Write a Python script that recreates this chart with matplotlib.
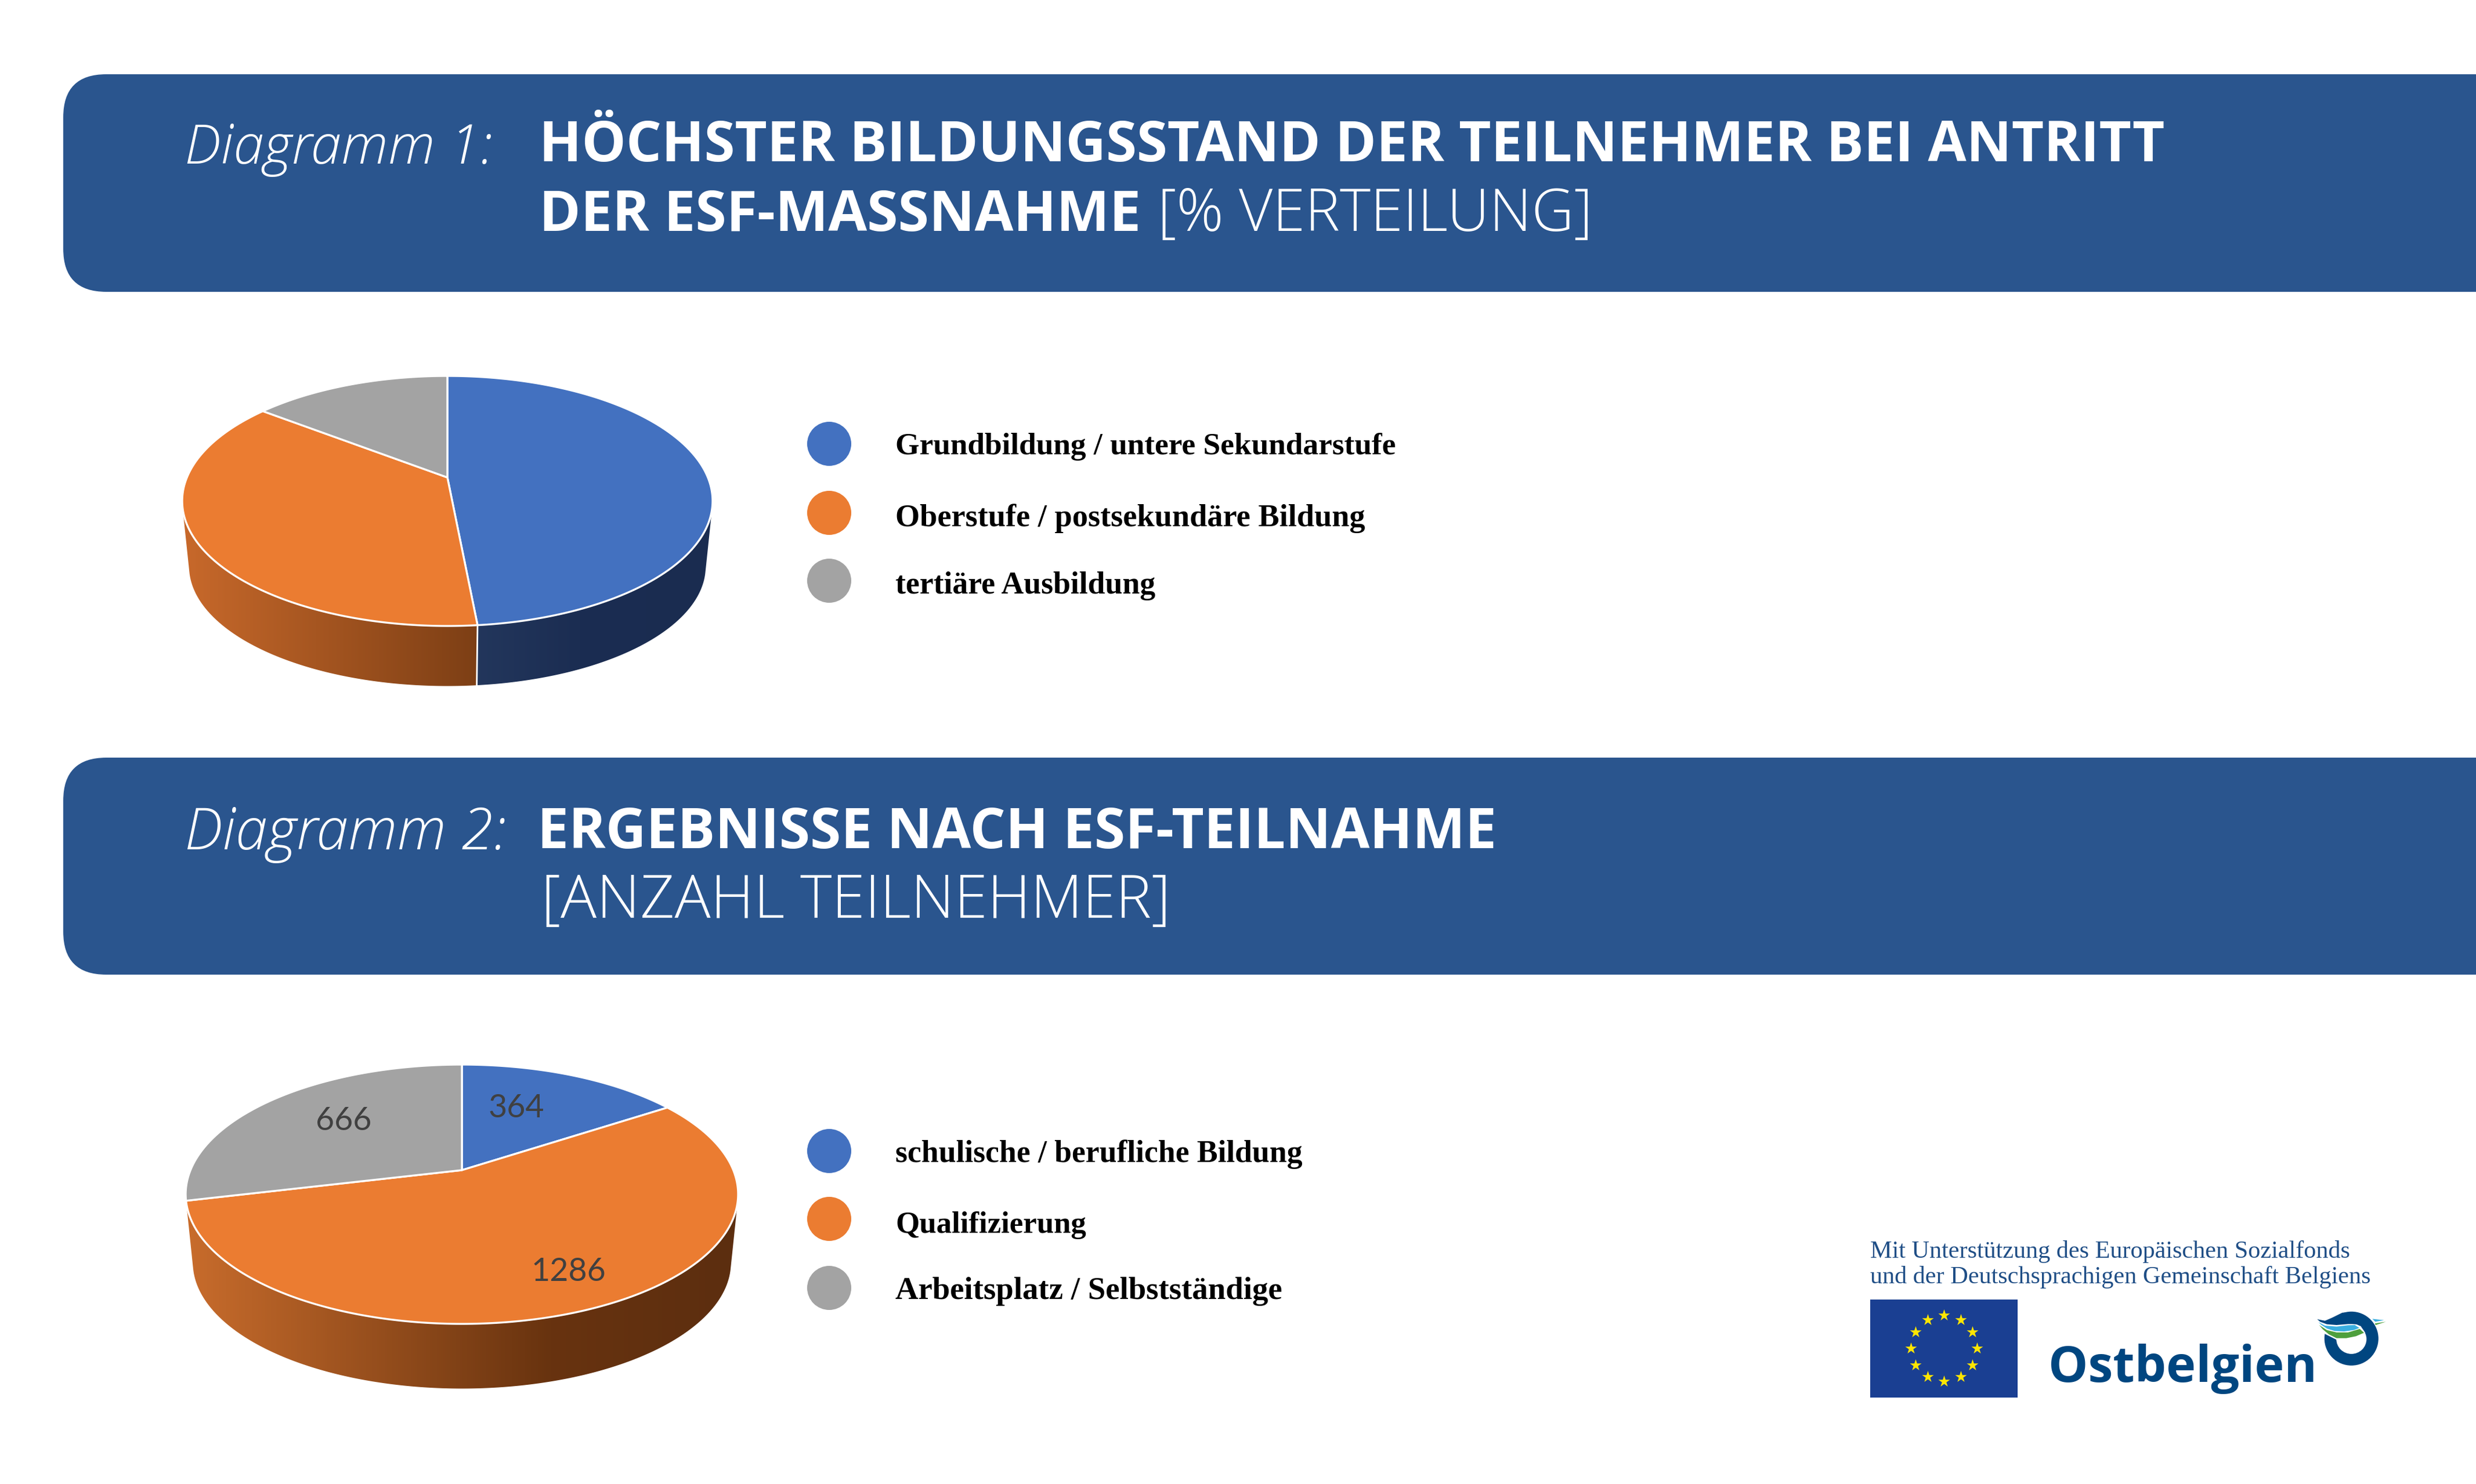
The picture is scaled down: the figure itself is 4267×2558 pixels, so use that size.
import numpy as np
import matplotlib
matplotlib.use("Agg")
import matplotlib.pyplot as plt
from matplotlib.patches import FancyBboxPatch, Circle, Ellipse, Polygon
from matplotlib.colors import LinearSegmentedColormap

# Daten
labels_1 = ["Grundbildung / untere Sekundarstufe", "Oberstufe / postsekundäre Bildung", "tertiäre Ausbildung"]
values_1 = [48.5, 37.0, 14.5]
labels_2 = ["schulische / berufliche Bildung", "Qualifizierung", "Arbeitsplatz / Selbstständige"]
values_2 = [364, 1286, 666]
colors = ["#4371C0", "#EB7C31", "#A3A3A3"]

title_1a = "HÖCHSTER BILDUNGSSTAND DER TEILNEHMER BEI ANTRITT"
title_1b = "DER ESF-MASSNAHME"
title_1c = "[% VERTEILUNG]"
title_2a = "ERGEBNISSE NACH ESF-TEILNAHME"
title_2b = "[ANZAHL TEILNEHMER]"
support = ["Mit Unterstützung des Europäischen Sozialfonds", "und der Deutschsprachigen Gemeinschaft Belgiens"]

BLUE = "#2A558E"
LOGO = "#004680"

W, H = 4267, 2558
fig = plt.figure(figsize=(W / 100, H / 100), dpi=100)
ax = fig.add_axes([0, 0, 1, 1])
ax.set_xlim(0, W)
ax.set_ylim(H, 0)
ax.axis("off")


def font_size(text, width, **font):
    # Schriftgroesse, bei der der Text die gewuenschte Breite in Pixeln hat
    t = ax.text(0, 0, text, fontsize=100, **font)
    w = t.get_window_extent(fig.canvas.get_renderer()).width
    t.remove()
    return 100 * width / w


def hull(pts):
    # konvexe Huelle, damit die Seitenwand tangential an die Deckflaeche anschliesst
    pts = sorted(map(tuple, pts))
    def half(seq):
        out = []
        for p in seq:
            while len(out) > 1 and (out[-1][0] - out[-2][0]) * (p[1] - out[-2][1]) - (out[-1][1] - out[-2][1]) * (p[0] - out[-2][0]) <= 0:
                out.pop()
            out.append(p)
        return out[:-1]
    return np.array(half(pts) + half(pts[::-1]))


def rim(theta, cx, cy, sx, sy, a):
    # Kreis in Perspektive: oben kleiner, unten groesser
    u, v = np.sin(theta), -np.cos(theta)
    d = 1 - a * v
    return cx + sx * u / d, cy + sy * v / d


def pie_3d(values, cx, cy, rx, top, bottom, shrink, drop, side_stops):
    a = (bottom - top) / (bottom + top)
    sy = bottom * (1 - a)
    sx = rx * np.sqrt(1 - a ** 2)
    ends = np.cumsum(values) / np.sum(values) * 2 * np.pi
    starts = np.r_[0, ends[:-1]]
    mid_y = cy + (bottom - top) / 2
    for t0, t1, stops in zip(starts, ends, side_stops):
        if stops is None:
            continue
        th = np.linspace(t0, t1, 300)
        x1, y1 = rim(th, cx, cy, sx, sy, a)
        x2 = cx + (x1 - cx) * shrink[0]
        y2 = mid_y + (y1 - mid_y) * shrink[1] + drop
        outline = hull(np.c_[np.r_[x1, x2], np.r_[y1, y2]])
        poly = Polygon(outline, closed=True, fc="none", ec="none")
        ax.add_patch(poly)
        cmap = LinearSegmentedColormap.from_list("side", stops)
        im = ax.imshow(np.linspace(0, 1, 256)[None, :], cmap=cmap, aspect="auto", interpolation="bilinear",
                       extent=[outline[:, 0].min(), outline[:, 0].max(), outline[:, 1].max(), outline[:, 1].min()],
                       zorder=2)
        im.set_clip_path(poly)
        # weisse Trennlinie zwischen den Seitenflaechen
        if t1 < np.pi:
            ax.plot([x1[-1], x2[-1]], [y1[-1], y2[-1]], color="white", lw=2, zorder=3)
    for t0, t1, c in zip(starts, ends, colors):
        th = np.linspace(t0, t1, 300)
        x, y = rim(th, cx, cy, sx, sy, a)
        ax.fill(np.r_[cx, x], np.r_[cy, y], fc=c, ec="white", lw=2.4, joinstyle="round", zorder=4)
    ax.set_xlim(0, W)
    ax.set_ylim(H, 0)


# Banner
for y0, y1 in [(128, 503), (1306, 1680)]:
    ax.add_patch(FancyBboxPatch((109, y0), 4600, y1 - y0, boxstyle="round,pad=0,rounding_size=74", fc=BLUE, ec="none"))

bold = dict(family="Open Sans", weight="bold")
light = dict(family="Open Sans", weight="light")
hand = dict(family="Open Sans", style="italic", weight="light")
text_w = dict(color="white", va="baseline")

ax.text(318, 282, "Diagramm 1:", fontsize=font_size("Diagramm 1:", 531, **hand), **hand, **text_w)
ax.text(318, 1464, "Diagramm 2:", fontsize=font_size("Diagramm 2:", 555, **hand), **hand, **text_w)
ax.text(929, 278, title_1a, fontsize=font_size(title_1a, 2804, **bold), **bold, **text_w)
ax.text(929, 398, title_1b, fontsize=font_size(title_1b, 1036, **bold), **bold, **text_w)
ax.text(1995, 398, title_1c, fontsize=font_size(title_1c, 748, **light), **light, **text_w)
ax.text(926, 1462, title_2a, fontsize=font_size(title_2a, 1654, **bold), **bold, **text_w)
ax.text(933, 1582, title_2b, fontsize=font_size(title_2b, 1084, **light), **light, **text_w)

# Kreise
pie_3d(values_1, 771, 823, 457, 175, 256, (0.974, 0.956), 113,
       [["#25395F", "#1B2D52", "#1A2C50"], ["#C8692B", "#7D3F15"], None])
pie_3d(values_2, 796, 2017, 476, 182, 265, (0.974, 0.971), 118,
       [None, [(0, "#C86C2C"), (0.66, "#68330F"), (1, "#5C2E10")], None])

value_pos = [(890, 1910), (980, 2193), (592, 1932)]
for v, (x, y) in zip(values_2, value_pos):
    ax.text(x, y, str(v), family="Lato", fontsize=40, color="#404040", ha="center", va="center", zorder=5)

# Legenden
serif_b = dict(family="Liberation Serif", weight="bold")
legend_rows = [(labels_1, (765, 884, 1001), (783, 907, 1023), (865, 808, 449)),
               (labels_2, (1984, 2101, 2220), (2003, 2125, 2239), (702, 329, 667))]
for labels, ys, bases, widths in legend_rows:
    for lab, y, b, wd, c in zip(labels, ys, bases, widths, colors):
        ax.add_patch(Circle((1429, y), 38, fc=c, ec="none"))
        ax.text(1543, b, lab, fontsize=font_size(lab, wd, **serif_b), color="black", va="baseline", **serif_b)

# Logos
fs_sup = font_size(support[1], 864, family="Liberation Serif")
ax.text(3223, 2168, support[0], family="Liberation Serif", fontsize=fs_sup, color="#1F4E86", va="baseline")
ax.text(3223, 2212, support[1], family="Liberation Serif", fontsize=fs_sup, color="#1F4E86", va="baseline")

ax.add_patch(plt.Rectangle((3223, 2240), 254, 169, fc="#1A3F92", ec="none"))
star_angles = np.arange(12) * np.pi / 6
ax.scatter(3350 + 57 * np.sin(star_angles), 2324 - 57 * np.cos(star_angles), marker="*", s=230, color="#FFE600", linewidths=0)

fs_logo = font_size("Ostbelgien", 463, family="Open Sans", weight="bold")
ax.text(3530, 2382, "Ostbelgien", family="Open Sans", weight="bold", fontsize=fs_logo, color=LOGO, va="baseline")


def z(points):
    # Koordinaten aus dem Ausschnitt des Logos
    p = np.array(points, dtype=float)
    return np.c_[3960 + p[:, 0] / 3, 2240 + p[:, 1] / 3]


ax.add_patch(Ellipse((4052.3, 2307.3), 93, 93, fc=LOGO, ec="none"))
ax.add_patch(Ellipse((4052.3, 2308.3), 52, 51, fc="white", ec="none"))
ax.add_patch(Polygon(z([(100, 108), (320, 130), (348, 172), (300, 198), (200, 208), (140, 178)]), fc="white", ec="none"))
ax.add_patch(Polygon(z([(100, 102), (140, 110), (175, 95), (230, 68), (300, 66), (325, 138), (300, 127), (260, 127), (200, 132), (150, 128), (115, 115)]), fc=LOGO, ec="none"))
ax.add_patch(Polygon(z([(107, 117), (140, 135), (200, 140), (260, 133), (295, 132), (318, 147), (290, 158), (240, 165), (190, 163), (150, 150), (120, 130)]), fc="#3AAFE0", ec="none"))
ax.add_patch(Polygon(z([(110, 132), (150, 158), (200, 170), (260, 170), (320, 152), (342, 172), (300, 190), (250, 200), (200, 200), (160, 180), (130, 155)]), fc="#4E9F3D", ec="none"))
ax.add_patch(Polygon(z([(385, 100), (445, 107), (400, 115)]), fc="#3AAFE0", ec="none"))
ax.add_patch(Polygon(z([(398, 124), (455, 115), (402, 132)]), fc="#4E9F3D", ec="none"))

fig.savefig("out.png", dpi=100, facecolor="white")
